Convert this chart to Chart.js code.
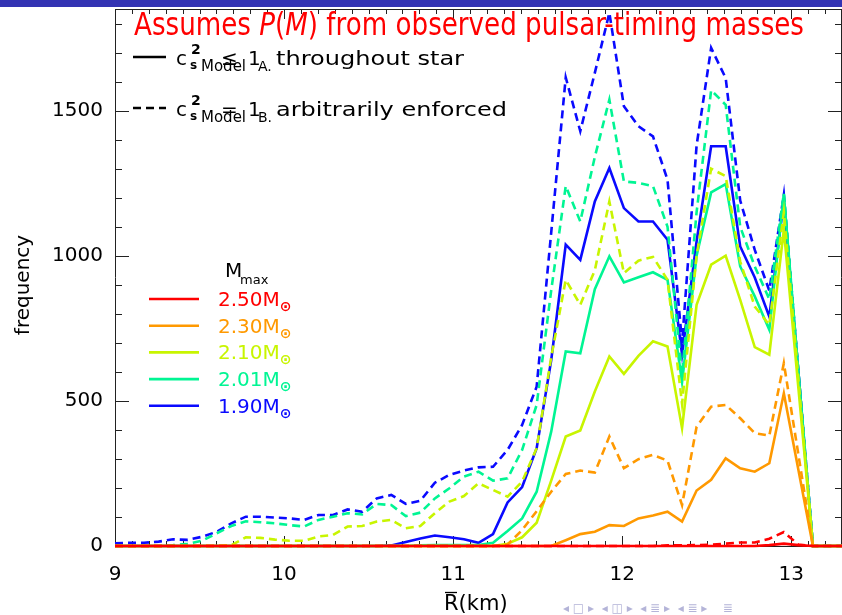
<!DOCTYPE html>
<html>
<head>
<meta charset="utf-8">
<script src="https://cdn.jsdelivr.net/npm/chart.js@4/dist/chart.umd.min.js"></script>
<style>
html,body{margin:0;padding:0;background:#fff;}
#wrap{position:relative;width:842px;height:615px;}
canvas{display:block;}
</style>
</head>
<body>
<div id="wrap"><canvas id="c" width="842" height="615"></canvas></div>
<script>
// Mean radius bins (km)
const R = [9.000,9.086,9.172,9.258,9.344,9.430,9.516,9.602,9.688,9.774,
  9.860,9.946,10.032,10.118,10.204,10.290,10.376,10.462,10.548,10.634,
  10.720,10.806,10.892,10.978,11.064,11.150,11.236,11.322,11.408,11.494,
  11.580,11.666,11.752,11.838,11.924,12.010,12.096,12.182,12.268,12.354,
  12.440,12.526,12.612,12.698,12.784,12.870,12.956,13.042,13.128,13.214,13.300];

// Mmax labels
const massLabels = ['2.50','2.30','2.10','2.01','1.90'];

// Model A (solid) frequencies
const solid250 = [0,0,0,0,0,0,0,0,0,0, 0,0,0,0,0,0,0,0,0,0, 0,0,0,0,0,0,0,0,0,0,
  0,0,0,0,0,0,0,0,0,0, 0,0,0,0,0,3,8,3,0,0,0];
const solid230 = [0,0,0,0,0,0,0,0,0,0, 0,0,0,0,0,0,0,0,0,0, 0,0,0,0,0,0,0,0,0,0,
  0,20,41,49,72,69,95,105,118,84, 191,228,302,268,256,285,526,263,0,0,0];
const solid210 = [0,0,0,0,0,0,0,0,0,0, 0,0,0,0,0,0,0,0,0,0, 0,0,0,0,0,0,0,8,30,80,
  225,377,398,532,653,593,655,705,687,406, 831,969,1000,848,685,659,1090,545,0,0,0];
const solid201 = [0,0,0,0,0,0,0,0,0,0, 0,0,0,0,0,0,0,0,0,0, 0,2,3,3,3,3,11,52,95,187,
  394,670,664,885,998,908,926,943,917,565, 1000,1218,1247,963,860,745,1210,600,0,0,0];
const solid190 = [0,0,0,0,0,0,0,0,0,0, 0,0,0,0,0,0,0,0,0,2, 14,26,36,30,23,11,41,150,203,337,
  640,1038,986,1187,1302,1164,1118,1118,1055,660, 1050,1377,1377,1032,925,790,1190,600,0,0,0];

// Model B (dashed) frequencies
const dashed250 = [0,0,0,0,0,0,0,0,0,0, 0,0,0,0,0,0,0,0,0,0, 0,0,0,0,0,0,0,0,0,0,
  0,0,0,0,0,0,0,0,2,2, 3,5,8,12,12,25,48,5,0,0,0];
const dashed230 = [0,0,0,0,0,0,0,0,0,0, 0,0,0,0,0,0,0,0,0,0, 0,0,0,0,0,0,0,5,55,120,
  187,248,260,253,377,268,299,314,294,141, 411,480,486,440,389,380,630,315,0,0,0];
const dashed210 = [0,0,0,0,0,0,0,0,3,30, 28,22,18,18,33,38,67,69,84,90, 61,69,113,153,172,216,193,170,222,337,
  650,917,831,950,1187,940,983,996,917,490, 1000,1300,1274,980,825,762,1150,575,0,0,0];
const dashed201 = [0,0,0,0,3,8,18,44,69,85, 82,78,72,67,90,101,113,109,145,141, 103,115,164,199,239,256,225,233,331,486,
  880,1240,1118,1340,1538,1256,1251,1240,1100,590, 1150,1570,1520,1100,963,850,1215,600,0,0,0];
const dashed190 = [9,11,11,15,23,21,32,49,78,101, 101,98,95,90,107,107,126,118,164,176, 145,156,218,245,260,271,273,331,417,549,
  1080,1614,1429,1630,1837,1515,1446,1411,1262,700, 1380,1716,1612,1190,1020,880,1210,600,0,0,0];

const xTicks = [9,10,11,12,13];
const yTicks = [0,500,1000,1500];

const COLORS = ['#ff0000','#ff9900','#c8f500','#00f593','#0a0aff'];
const solids = [solid250,solid230,solid210,solid201,solid190];
const dashes = [dashed250,dashed230,dashed210,dashed201,dashed190];

const toXY = arr => R.map((r,i)=>({x:r,y:arr[i]}));
const datasets = [];
for (let k=0;k<5;k++){
  datasets.push({label:massLabels[k]+' A', data:toXY(solids[k]), borderColor:COLORS[k], borderWidth:2.6, pointRadius:0, tension:0, clip:6, fill:false});
  datasets.push({label:massLabels[k]+' B', data:toXY(dashes[k]), borderColor:COLORS[k], borderWidth:2.6, borderDash:[8,5], pointRadius:0, tension:0, clip:6, fill:false});
}

const FONT = '"DejaVu Sans", Verdana, sans-serif';

const framePlugin = {
  id:'frame',
  beforeDatasetsDraw(chart){
    const {ctx, chartArea:a, scales:{x,y}} = chart;
    ctx.save();
    ctx.strokeStyle = '#222'; ctx.lineWidth = 1;
    ctx.beginPath();
    ctx.moveTo(a.left+0.5, a.top+0.5); ctx.lineTo(a.right+0.5, a.top+0.5);
    ctx.moveTo(a.left+0.5, a.top); ctx.lineTo(a.left+0.5, a.bottom);
    ctx.moveTo(a.left, a.bottom+0.5); ctx.lineTo(a.right, a.bottom+0.5);
    ctx.moveTo(a.right-0.5, a.top); ctx.lineTo(a.right-0.5, a.bottom);
    ctx.stroke();
    ctx.beginPath();
    for (let n=0; n<=43; n++){
      const v = 9 + n*0.1;
      const px = Math.round(x.getPixelForValue(v))+0.5;
      const L = (n%10===0) ? 10 : 5;
      ctx.moveTo(px, a.bottom); ctx.lineTo(px, a.bottom-L);
      ctx.moveTo(px, a.top); ctx.lineTo(px, a.top+L);
    }
    for (let v=0; v<=1850; v+=100){
      const py = Math.round(y.getPixelForValue(v))+0.5;
      const L = (v%500===0) ? 14 : 7;
      ctx.moveTo(a.left, py); ctx.lineTo(a.left+L, py);
      ctx.moveTo(a.right, py); ctx.lineTo(a.right-L, py);
    }
    ctx.stroke();
    ctx.restore();
  },
  afterDraw(chart){
    const ctx = chart.ctx;
    ctx.save();
    // beamer header bar
    ctx.fillStyle = '#3333b3';
    ctx.fillRect(0,0,842,7);

    // Title with fitted width
    const TS = 30;
    const parts = [
      {t:'Assumes ', f:TS+'px '+FONT},
      {t:'P', f:'italic '+TS+'px '+FONT},
      {t:'(', f:TS+'px '+FONT},
      {t:'M', f:'italic '+TS+'px '+FONT},
      {t:')', f:TS+'px '+FONT},
      {t:' from observed pulsar-timing masses', f:TS+'px '+FONT}
    ];
    let total = 0;
    parts.forEach(p=>{ctx.font=p.f; p.w=ctx.measureText(p.t).width; total+=p.w;});
    const sx = 670/total;
    ctx.fillStyle = '#ff0000';
    ctx.textBaseline = 'alphabetic';
    ctx.textAlign = 'left';
    let cx = 134;
    parts.forEach(p=>{
      ctx.save(); ctx.translate(cx,35); ctx.scale(sx,1.08);
      ctx.font = p.f; ctx.fillText(p.t,0,0); ctx.restore();
      cx += p.w*sx;
    });

    // Line-style legend
    ctx.fillStyle = '#000'; ctx.strokeStyle = '#000'; ctx.lineWidth = 2.6;
    function styleRow(yy, dashed, rel, sub, text, textW){
      ctx.save();
      if (dashed) ctx.setLineDash([8,5]);
      ctx.beginPath(); ctx.moveTo(133,yy); ctx.lineTo(166,yy); ctx.stroke();
      ctx.restore();
      const b = yy+8;
      ctx.font = '20px '+FONT; ctx.fillText('c',176,b);
      ctx.font = 'bold 14px '+FONT; ctx.fillText('2',191,b-11);
      ctx.font = 'bold 12px '+FONT; ctx.fillText('s',190,b+4);
      ctx.font = '15px '+FONT; ctx.fillText('Model',201,b+6);
      ctx.font = '20px '+FONT; ctx.fillText(rel,221,b);
      ctx.font = '20px '+FONT; ctx.fillText('1',248,b);
      ctx.font = '14px '+FONT; ctx.fillText(sub,258,b+6);
      ctx.font = '20px '+FONT;
      const w = ctx.measureText(text).width;
      ctx.save(); ctx.translate(276,b); ctx.scale(textW/w,1); ctx.fillText(text,0,0); ctx.restore();
    }
    styleRow(57,false,'\u2264','A.','throughout star',188);
    styleRow(108,true,'=','B.','arbitrarily enforced',231);

    // Mmax legend
    ctx.fillStyle = '#000';
    ctx.font = '20px '+FONT; ctx.fillText('M',225,277);
    ctx.font = '13px '+FONT; ctx.fillText('max',240,284);
    for (let k=0;k<5;k++){
      const yy = 299 + k*26.7;
      ctx.strokeStyle = COLORS[k]; ctx.lineWidth = 2.6;
      ctx.beginPath(); ctx.moveTo(149,yy); ctx.lineTo(199,yy); ctx.stroke();
      ctx.fillStyle = COLORS[k];
      ctx.font = '20px '+FONT;
      const lbl = massLabels[k]+'M';
      ctx.fillText(lbl,218,yy+7);
      const w = ctx.measureText(lbl).width;
      ctx.font = 'bold 14px '+FONT;
      ctx.fillText('\u2299',218+w,yy+12);
    }

    // axis titles
    ctx.fillStyle = '#000';
    ctx.font = '20px '+FONT;
    ctx.save(); ctx.translate(29,285); ctx.rotate(-Math.PI/2);
    ctx.textAlign='center'; ctx.fillText('frequency',0,0); ctx.restore();
    ctx.textAlign='left';
    ctx.font = '21px '+FONT;
    ctx.fillText('R(km)',444,610);
    ctx.lineWidth=1.3; ctx.strokeStyle='#000';
    ctx.beginPath(); ctx.moveTo(445,592.5); ctx.lineTo(457,592.5); ctx.stroke();

    // beamer navigation symbols
    ctx.fillStyle = '#b4b4d8';
    ctx.font = '12px '+FONT;
    ctx.fillText('\u25C2 \u25A1 \u25B8  \u25C2 \u25EB \u25B8  \u25C2 \u2263 \u25B8  \u25C2 \u2263 \u25B8    \u2263',563,612);
    ctx.restore();
  }
};

new Chart(document.getElementById('c'), {
  type:'line',
  data:{datasets},
  options:{
    responsive:false,
    animation:false,
    devicePixelRatio:1,
    layout:{padding:{top:9,right:0,left:0,bottom:0}},
    plugins:{legend:{display:false},tooltip:{enabled:false},title:{display:false}},
    scales:{
      x:{type:'linear',min:9,max:13.3,
        afterFit(s){s.height=69; s.paddingLeft=0; s.paddingRight=0; s.paddingTop=0; s.paddingBottom=0;},
        afterBuildTicks(s){s.ticks = xTicks.map(v=>({value:v}));},
        grid:{display:false,drawTicks:false},border:{display:false},
        ticks:{padding:17,color:'#000',font:{family:FONT,size:20},callback:v=>String(v),maxRotation:0}},
      y:{type:'linear',min:0,max:1850,
        afterFit(s){s.width=115; s.paddingTop=0; s.paddingBottom=0; s.paddingLeft=0; s.paddingRight=0;},
        afterBuildTicks(s){s.ticks = yTicks.map(v=>({value:v}));},
        grid:{display:false,drawTicks:false},border:{display:false},
        ticks:{padding:12,color:'#000',font:{family:FONT,size:20},callback:v=>String(v)}}
    }
  },
  plugins:[framePlugin]
});
</script>
</body>
</html>
